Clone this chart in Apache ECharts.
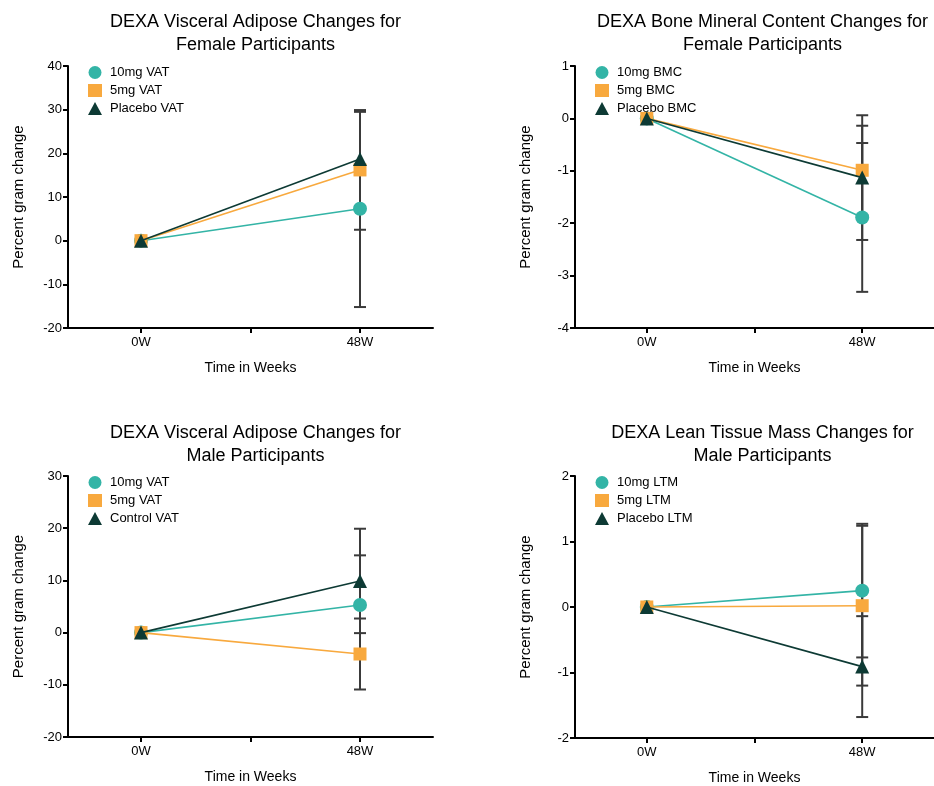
<!DOCTYPE html>
<html>
<head>
<meta charset="utf-8">
<script src="https://cdn.jsdelivr.net/npm/echarts@6/dist/echarts.min.js"></script>
<style>html,body{margin:0;padding:0;background:#fff}#c{width:934px;height:786px}</style>
</head>
<body>
<div id="c"></div>
<script>
// ---- Data ----
const weeks = [0, 48];
const xTickValues = [0, 24, 48];
const xLabelValues = [0, 48];

const titles = [
  "DEXA Visceral Adipose Changes for\nFemale Participants",
  "DEXA Bone Mineral Content Changes for\nFemale Participants",
  "DEXA Visceral Adipose Changes for\nMale Participants",
  "DEXA Lean Tissue Mass Changes for\nMale Participants"
];

// Panel 1: female VAT
const p1Names = ["10mg VAT", "5mg VAT", "Placebo VAT"];
const p1Mean10 = [0, 7.3], p1Mean5 = [0, 16.2], p1MeanPl = [0, 18.7];
const p1Sd10 = [0, 22.5], p1Sd5 = [0, 13.7], p1SdPl = [0, 10.8];

// Panel 2: female BMC
const p2Names = ["10mg BMC", "5mg BMC", "Placebo BMC"];
const p2Mean10 = [0, -1.89], p2Mean5 = [0, -0.99], p2MeanPl = [0, -1.13];
const p2Sd10 = [0, 1.42], p2Sd5 = [0, 0.85], p2SdPl = [0, 1.19];

// Panel 3: male VAT
const p3Names = ["10mg VAT", "5mg VAT", "Control VAT"];
const p3Mean10 = [0, 5.3], p3Mean5 = [0, -4.1], p3MeanPl = [0, 9.9];
const p3Sd10 = [0, 9.5], p3Sd5 = [0, 6.8], p3SdPl = [0, 10.0];

// Panel 4: male LTM
const p4Names = ["10mg LTM", "5mg LTM", "Placebo LTM"];
const p4Mean10 = [0, 0.25], p4Mean5 = [0, 0.02], p4MeanPl = [0, -0.91];
const p4Sd10 = [0, 1.02], p4Sd5 = [0, 1.22], p4SdPl = [0, 0.77];

// y axis ranges
const yMin = [-20, -4, -20, -2];
const yMax = [40, 1, 30, 2];
const yInterval = [10, 1, 10, 1];

// ---- Styling ----
const FONT = '"Liberation Sans", Arial, Helvetica, sans-serif';
const colors = ['#33b4a6', '#f8a93e', '#0d3a34'];
const symbols = ['circle', 'rect', 'triangle'];
const symbolSizes = [14, 13, 14];

const grids = [
  {left: 68, top: 66, width: 365, height: 262},
  {left: 575, top: 66, width: 365, height: 262},
  {left: 68, top: 476, width: 365, height: 261},
  {left: 575, top: 476, width: 365, height: 262}
];

const panels = [
  {names: p1Names, means: [p1Mean10, p1Mean5, p1MeanPl], sds: [p1Sd10, p1Sd5, p1SdPl]},
  {names: p2Names, means: [p2Mean10, p2Mean5, p2MeanPl], sds: [p2Sd10, p2Sd5, p2SdPl]},
  {names: p3Names, means: [p3Mean10, p3Mean5, p3MeanPl], sds: [p3Sd10, p3Sd5, p3SdPl]},
  {names: p4Names, means: [p4Mean10, p4Mean5, p4MeanPl], sds: [p4Sd10, p4Sd5, p4SdPl]}
];

const option = {
  backgroundColor: '#fff',
  animation: false,
  textStyle: {fontFamily: FONT, color: '#000'},
  title: [],
  legend: [],
  grid: grids,
  xAxis: [],
  yAxis: [],
  series: []
};

function errRender(params, api) {
  const x = api.value(0), lo = api.value(1), hi = api.value(2);
  const a = api.coord([x, lo]), b = api.coord([x, hi]);
  const w = 6;
  const st = {stroke: '#3a3a3a', lineWidth: 2};
  return {
    type: 'group',
    children: [
      {type: 'line', shape: {x1: a[0], y1: a[1], x2: b[0], y2: b[1]}, style: st},
      {type: 'line', shape: {x1: a[0] - w, y1: a[1], x2: a[0] + w, y2: a[1]}, style: st},
      {type: 'line', shape: {x1: b[0] - w, y1: b[1], x2: b[0] + w, y2: b[1]}, style: st}
    ]
  };
}

panels.forEach((p, i) => {
  const g = grids[i];
  option.title.push({
    text: titles[i],
    left: g.left + g.width / 2,
    top: i < 2 ? 6 : 417,
    textAlign: 'center',
    textStyle: {fontFamily: FONT, fontSize: 18, fontWeight: 'normal', color: '#000', lineHeight: 23}
  });
  option.legend.push({
    data: p.names.map((n, k) => ({name: n, icon: symbols[k]})),
    orient: 'vertical',
    left: g.left + 15,
    top: g.top - 5,
    itemWidth: 14,
    itemHeight: 13,
    itemGap: 5,
    textStyle: {fontFamily: FONT, fontSize: 13, color: '#000', padding: [0, 0, 0, 3]},
    selectedMode: false
  });
  option.xAxis.push({
    type: 'value', gridIndex: i, min: -16, max: 64,
    name: 'Time in Weeks', nameLocation: 'middle', nameGap: 33,
    nameTextStyle: {fontFamily: FONT, fontSize: 14, color: '#000'},
    axisLine: {onZero: false, lineStyle: {color: '#000', width: 2}},
    axisTick: {show: true, length: 5, lineStyle: {color: '#000', width: 2}, customValues: xTickValues},
    axisLabel: {customValues: xLabelValues, formatter: v => v + 'W', fontFamily: FONT, fontSize: 13, color: '#000', margin: 8},
    splitLine: {show: false}
  });
  option.yAxis.push({
    type: 'value', gridIndex: i, min: yMin[i], max: yMax[i], interval: yInterval[i],
    name: 'Percent gram change', nameLocation: 'middle', nameGap: 42,
    nameTextStyle: {fontFamily: FONT, fontSize: 15, color: '#000'},
    axisLine: {show: true, onZero: false, lineStyle: {color: '#000', width: 2}},
    axisTick: {show: true, length: 5, lineStyle: {color: '#000', width: 2}},
    axisLabel: {fontFamily: FONT, fontSize: 13, color: '#000', margin: 6},
    splitLine: {show: false}
  });
  // error bars
  const errData = [];
  p.means.forEach((m, k) => {
    m.forEach((v, j) => {
      const s = p.sds[k][j];
      if (s > 0) errData.push([weeks[j], v - s, v + s]);
    });
  });
  option.series.push({
    type: 'custom', xAxisIndex: i, yAxisIndex: i, renderItem: errRender,
    data: errData, z: 1, silent: true, encode: {x: 0, y: [1, 2]}
  });
  p.names.forEach((n, k) => {
    option.series.push({
      name: n, type: 'line', xAxisIndex: i, yAxisIndex: i,
      data: weeks.map((w, j) => [w, p.means[k][j]]),
      symbol: symbols[k], symbolSize: symbolSizes[k],
      color: colors[k],
      lineStyle: {color: colors[k], width: 1.6},
      itemStyle: {color: colors[k]},
      z: 3 + k
    });
  });
});

const chart = echarts.init(document.getElementById('c'), null, {renderer: 'canvas'});
chart.setOption(option);
</script>
</body>
</html>
